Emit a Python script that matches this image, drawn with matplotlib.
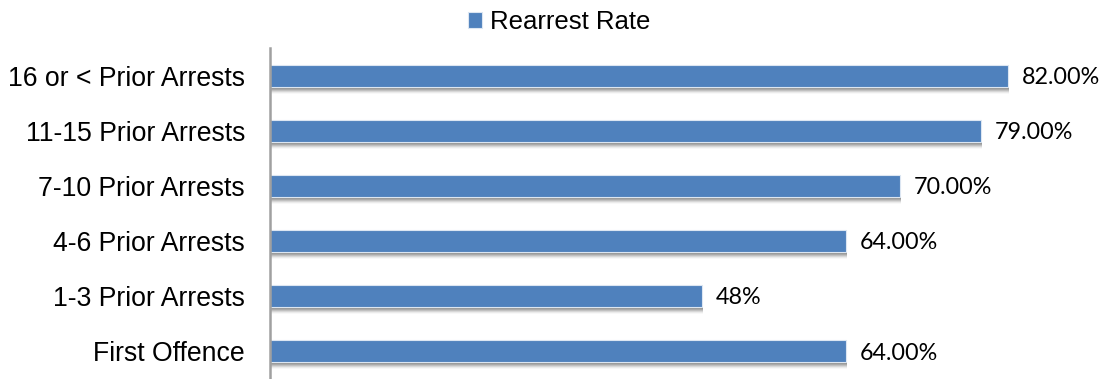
import numpy as np
import matplotlib.pyplot as plt

categories = ['First Offence', '1-3 Prior Arrests', '4-6 Prior Arrests',
              '7-10 Prior Arrests', '11-15 Prior Arrests', '16 or < Prior Arrests']
rates = [64.0, 48.0, 64.0, 70.0, 79.0, 82.0]
value_labels = ['64.00%', '48%', '64.00%', '70.00%', '79.00%', '82.00%']

fig = plt.figure(figsize=(11.1, 3.79), dpi=100)
ax = fig.add_axes([270 / 1110, 0, 830 / 1110, 331 / 379])

ind = np.arange(len(categories))
height = 0.4
px = 1 / 55.2  # one pixel in y data units

# soft drop shadow under each bar
for k, a in zip([1, 2, 3, 4, 5, 6, 7], [0.45, 0.4, 0.32, 0.25, 0.18, 0.1, 0.05]):
    ax.barh(ind - k * px, rates, height, left=0.15, color='#7f7f7f',
            alpha=a, linewidth=0, zorder=1)

bars = ax.barh(ind, rates, height, color='#4F81BD', edgecolor='#dce6f2',
               linewidth=0.8, zorder=2, label='Rearrest Rate')

for i, (r, lab) in enumerate(zip(rates, value_labels)):
    ax.text(r + 1.5, i - 0.03, lab, va='center', ha='left', fontsize=16.8,
            family=['Lato', 'DejaVu Sans'], color='#000000')

ax.set_xlim(0, 830 / 9)
ax.set_ylim(-0.5, 5.5)
ax.set_yticks(ind)
ax.set_yticklabels(categories, fontsize=19.2, family='Liberation Sans')
ax.tick_params(axis='y', length=0, pad=18)
ax.set_xticks([])
for s in ['top', 'right', 'bottom']:
    ax.spines[s].set_visible(False)
ax.spines['left'].set_color('#a0a0a0')
ax.spines['left'].set_linewidth(1.8)

leg = fig.legend(handles=[bars], labels=['Rearrest Rate'], loc='center',
                 bbox_to_anchor=(559 / 1110, 1 - 22 / 379), frameon=False,
                 prop={'family': 'Liberation Sans', 'size': 18.5},
                 handlelength=0.55, handleheight=0.55, handletextpad=0.3)

fig.savefig('out.png', dpi=100)
